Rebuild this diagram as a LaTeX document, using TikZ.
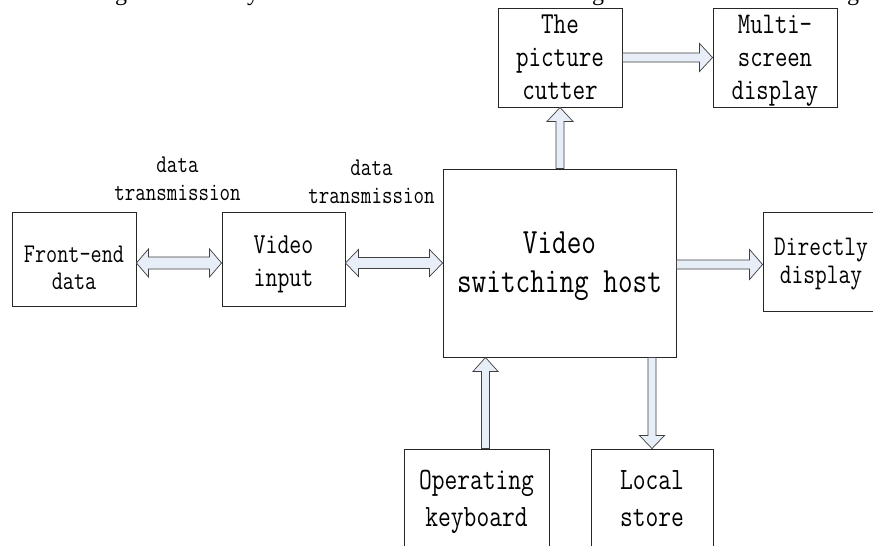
\documentclass[tikz,border=0pt]{standalone}
\usepackage{fontspec}
\usepackage{graphicx}
\usetikzlibrary{calc}
\newfontfamily\capfont{Liberation Serif}
\definecolor{arrowfill}{RGB}{231,238,248}
\newcommand\lbl[3]{\scalebox{0.8}[1]{\fontsize{#1}{#2}\selectfont\ttfamily\begin{tabular}{@{}c@{}}#3\end{tabular}}}
\newcommand\sarrow[5]{%
  \coordinate (hb) at ($(#2)!#5!(#1)$);
  \draw[blk] ($(#1)!#3!90:(#2)$) -- ($(hb)!#3!90:(#2)$) -- ($(hb)!#4!90:(#2)$) -- (#2)
     -- ($(hb)!#4!-90:(#2)$) -- ($(hb)!#3!-90:(#2)$) -- ($(#1)!#3!-90:(#2)$) -- cycle;}
\newcommand\darrow[5]{%
  \coordinate (hbb) at ($(#1)!#5!(#2)$);
  \coordinate (hbe) at ($(#2)!#5!(#1)$);
  \draw[blk] (#1) -- ($(hbb)!#4!90:(#2)$) -- ($(hbb)!#3!90:(#2)$) -- ($(hbe)!#3!90:(#2)$)
     -- ($(hbe)!#4!90:(#2)$) -- (#2) -- ($(hbe)!#4!-90:(#2)$) -- ($(hbe)!#3!-90:(#2)$)
     -- ($(hbb)!#3!-90:(#2)$) -- ($(hbb)!#4!-90:(#2)$) -- cycle;}
\begin{document}
\begin{tikzpicture}[x=1pt,y=-1pt,
  box/.style={draw=black!85, line width=0.9pt, fill=white, inner sep=0pt},
  txt/.style={inner sep=0pt},
  blk/.style={draw=black!75, line width=0.7pt, fill=arrowfill, line join=miter}]
\useasboundingbox (0,0) rectangle (873,546);
\clip (0,0) rectangle (873,546);
\fill[white] (0,0) rectangle (873,546);
% cut-off caption fragments at the top
\node[txt, anchor=base] (frag1) at (121,0.5) {\capfont\fontsize{24}{24}\selectfont g};
\node[txt, anchor=base] (frag2) at (253,0.5) {\capfont\fontsize{24}{24}\selectfont y};
\node[txt, anchor=base] (frag3) at (598,0.5) {\capfont\fontsize{24}{24}\selectfont g};
\node[txt, anchor=base] (frag4) at (853,0.5) {\capfont\fontsize{24}{24}\selectfont g};
% boxes
\node[box, minimum width=124pt, minimum height=94pt] (fe) at (74,259) {};
\node[box, minimum width=123pt, minimum height=94pt] (vi) at (283.5,259) {};
\node[box, minimum width=233pt, minimum height=188pt] (host) at (559.5,263) {};
\node[box, minimum width=124pt, minimum height=99pt] (cut) at (560,57.5) {};
\node[box, minimum width=124pt, minimum height=99pt] (multi) at (775,57.5) {};
\node[box, minimum width=116pt, minimum height=99pt] (direct) at (821,261.5) {};
\node[box, minimum width=145pt, minimum height=106pt] (kb) at (476.5,502) {};
\node[box, minimum width=122pt, minimum height=106pt] (ls) at (652,502) {};
% texts
\node[txt] (fe-t) at (74,270.1) {\lbl{27}{27}{Front-end\\data}};
\node[txt] (vi-t) at (283.5,262.9) {\lbl{29}{33}{Video\\input}};
\node[txt] (host-t) at (559.5,264.7) {\lbl{35.5}{39}{Video\\switching host}};
\node[txt] (cut-t) at (560,59.4) {\lbl{30.5}{33}{The\\picture\\cutter}};
\node[txt] (multi-t) at (775,59.4) {\lbl{30}{33}{Multi-\\screen\\display}};
\node[txt] (direct-t) at (821,263.4) {\lbl{28.5}{28}{Directly\\display}};
\node[txt] (kb-t) at (476.5,501) {\lbl{31}{37}{Operating\\keyboard}};
\node[txt] (ls-t) at (652,501) {\lbl{31}{37}{Local\\store}};
\node[txt] (lab1) at (177.5,180.4) {\lbl{25.5}{28}{data\\transmission}};
\node[txt] (lab2) at (371.5,183.4) {\lbl{25.5}{28}{data\\transmission}};
% connectors
\coordinate (a1) at ([yshift=-4pt]fe.east);
\coordinate (a2) at (a1 -| vi.west);
\darrow{a1}{a2}{6pt}{14pt}{12pt}
\coordinate (b1) at ([yshift=-4pt]vi.east);
\coordinate (b2) at (b1 -| host.west);
\darrow{b1}{b2}{5.5pt}{13.5pt}{13pt}
\coordinate (c1) at ([yshift=-1.5pt]host.east);
\coordinate (c2) at (c1 -| direct.west);
\sarrow{c1}{c2}{4.5pt}{15pt}{13pt}
\coordinate (d1) at (cut.south |- host.north);
\sarrow{d1}{cut.south}{4pt}{13pt}{14pt}
\sarrow{cut.east}{multi.west}{4.5pt}{14pt}{13pt}
\coordinate (e1) at ([xshift=9pt]kb.north);
\coordinate (e2) at (e1 |- host.south);
\sarrow{e1}{e2}{4pt}{12.5pt}{14pt}
\coordinate (f1) at (ls.north |- host.south);
\sarrow{f1}{ls.north}{4pt}{12.5pt}{13pt}
\end{tikzpicture}
\end{document}
